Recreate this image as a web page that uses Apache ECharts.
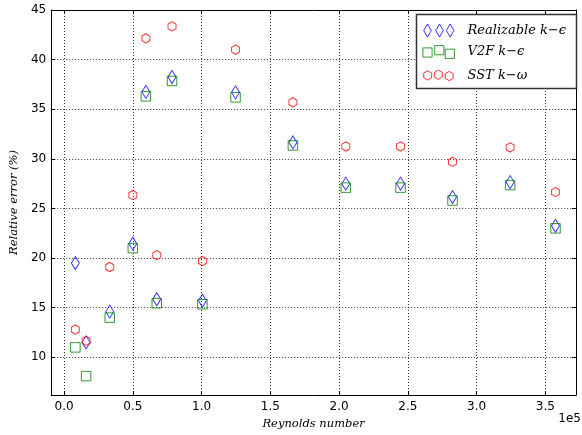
<!DOCTYPE html>
<html>
<head>
<meta charset="utf-8">
<script src="https://cdn.jsdelivr.net/npm/echarts@6/dist/echarts.min.js"></script>
<style>
  html, body { margin: 0; padding: 0; background: #fff; }
  #chart { width: 582px; height: 435px; }
</style>
</head>
<body>
<div id="chart"></div>
<script>
// Reynolds numbers of the test cases and relative errors (%) of each turbulence model
const reynolds = [8200, 16000, 33200, 50000, 59500, 67400, 78500, 100600, 124700, 166400, 204900, 244700, 282500, 324400, 357400];
const realizableErr = [19.5, 11.5, 14.6, 21.45, 36.75, 15.85, 38.25, 15.7, 36.7, 31.65, 27.5, 27.5, 26.15, 27.65, 23.25];
const v2fErr = [11.0, 8.1, 14.0, 21.0, 36.3, 15.45, 37.85, 15.35, 36.2, 31.35, 27.1, 27.1, 25.8, 27.35, 23.0];
const sstErr = [12.8, 11.65, 19.1, 26.35, 42.15, 20.3, 43.35, 19.7, 41.0, 35.7, 31.25, 31.25, 29.7, 31.15, 26.65];

const xTicks = [0, 50000, 100000, 150000, 200000, 250000, 300000, 350000];
const xTickLabels = ['0.0', '0.5', '1.0', '1.5', '2.0', '2.5', '3.0', '3.5'];
const yTicks = [10, 15, 20, 25, 30, 35, 40, 45];

const seriesNames = ['Realizable k\u2212\u03f5', 'V2F k\u2212\u03f5', 'SST k\u2212\u03c9'];

const BLUE = '#0000ff', GREEN = '#008000', RED = '#ff0000';
const serif = 'DejaVu Serif, Liberation Serif, serif';
const sans = 'DejaVu Sans, sans-serif';

// Marker outlines (unit shapes, scaled by symbolSize)
const hexSymbol = 'path://M0,-1 L0.866,-0.5 L0.866,0.5 L0,1 L-0.866,0.5 L-0.866,-0.5 Z';

// Build a legend icon made of three hollow markers, as matplotlib draws scatter legends
function shapePath(shape, cx, cy, hw, hh) {
  if (shape === 'diamond') {
    return `M${cx} ${cy - hh} L${cx + hw} ${cy} L${cx} ${cy + hh} L${cx - hw} ${cy} Z`;
  }
  if (shape === 'square') {
    return `M${cx - hw} ${cy - hh} H${cx + hw} V${cy + hh} H${cx - hw} Z`;
  }
  const s = hh / 2;
  return `M${cx} ${cy - hh} L${cx + hw} ${cy - s} L${cx + hw} ${cy + s} L${cx} ${cy + hh} L${cx - hw} ${cy + s} L${cx - hw} ${cy - s} Z`;
}
function legendIcon(shape, centers, hw, hh) {
  const x0 = Math.min(...centers.map(c => c[0])) - hw;
  const x1 = Math.max(...centers.map(c => c[0])) + hw;
  const y0 = Math.min(...centers.map(c => c[1])) - hh;
  const y1 = Math.max(...centers.map(c => c[1])) + hh;
  const r = v => Math.round(v * 100) / 100;
  const path = centers.map(c => shapePath(shape, r(c[0] - x0), r(c[1] - y0), hw, hh)).join(' ');
  return { path: 'path://' + path, left: x0, top: y0, w: x1 - x0, h: y1 - y0 };
}

const legendIcons = [
  legendIcon('diamond', [[427, 30], [439, 30], [449.7, 30]], 3.75, 6.5),
  legendIcon('square', [[427, 52], [438.8, 49.7], [449.3, 53.3]], 4.6, 4.6),
  legendIcon('hex', [[427.2, 74.2], [437.8, 73.5], [448.7, 74.8]], 3.98, 4.6)
];
const legendColors = [BLUE, GREEN, RED];
const TEXT_LEFT = 467;

const legends = legendIcons.map((ic, i) => ({
  left: ic.left,
  top: ic.top,
  padding: 0,
  orient: 'vertical',
  itemWidth: ic.w,
  itemHeight: ic.h,
  selectedMode: false,
  z: 10,
  data: [{
    name: seriesNames[i],
    icon: ic.path,
    itemStyle: { color: 'rgba(0,0,0,0)', borderColor: legendColors[i], borderWidth: 1 }
  }],
  textStyle: {
    fontFamily: serif, fontStyle: 'italic', fontSize: 13, color: '#000',
    padding: [0, 0, 0, TEXT_LEFT - (ic.left + ic.w + 5)]
  }
}));

function pairs(ys) { return reynolds.map((x, i) => [x, ys[i]]); }

const gridLine = { show: true, lineStyle: { color: 'rgba(0,0,0,0.8)', width: 1, type: [1, 2] } };
const frameLine = { show: true, onZero: false, lineStyle: { color: '#000', width: 1 } };

const X_MIN = -9400, X_MAX = 372300, Y_MIN = 6.2, Y_MAX = 45;

const option = {
  backgroundColor: '#fff',
  animation: false,
  grid: { left: 48, right: 6, top: 10, bottom: 38, containLabel: false },
  xAxis: [
    {
      type: 'value', position: 'bottom', min: X_MIN, max: X_MAX,
      axisLine: frameLine,
      axisTick: { show: true, inside: true, length: 4, customValues: xTicks, lineStyle: { color: '#000' } },
      axisLabel: {
        show: true, customValues: xTicks, margin: 6, color: '#000', fontFamily: sans, fontSize: 12,
        formatter: v => xTickLabels[xTicks.indexOf(v)] ?? ''
      },
      splitLine: gridLine,
      name: 'Reynolds number', nameLocation: 'middle', nameGap: 23,
      nameTextStyle: { fontFamily: serif, fontStyle: 'italic', fontSize: 11.5, color: '#000' }
    },
    {
      type: 'value', position: 'top', min: X_MIN, max: X_MAX,
      axisLine: frameLine,
      axisTick: { show: true, inside: true, length: 4, customValues: xTicks, lineStyle: { color: '#000' } },
      axisLabel: { show: false, customValues: xTicks },
      splitLine: { show: false }
    }
  ],
  yAxis: [
    {
      type: 'value', position: 'left', min: Y_MIN, max: Y_MAX,
      axisLine: frameLine,
      axisTick: { show: true, inside: true, length: 4, customValues: yTicks, lineStyle: { color: '#000' } },
      axisLabel: { show: true, customValues: yTicks, margin: 5, color: '#000', fontFamily: sans, fontSize: 12 },
      splitLine: gridLine,
      name: 'Relative error (%)', nameLocation: 'middle', nameGap: 23,
      nameTextStyle: { fontFamily: serif, fontStyle: 'italic', fontSize: 11.5, color: '#000' }
    },
    {
      type: 'value', position: 'right', min: Y_MIN, max: Y_MAX,
      axisLine: frameLine,
      axisTick: { show: true, inside: true, length: 4, customValues: yTicks, lineStyle: { color: '#000' } },
      axisLabel: { show: false, customValues: yTicks },
      splitLine: { show: false }
    }
  ],
  legend: legends,
  graphic: [
    {
      type: 'rect', z: 8, silent: true,
      shape: { x: 416.5, y: 14.5, width: 160, height: 74 },
      style: { fill: '#fff', stroke: '#333', lineWidth: 1.5 }
    },
    {
      type: 'text', right: 1, top: 413, silent: true,
      style: { text: '1e5', fontFamily: sans, fontSize: 12, fill: '#000' }
    }
  ],
  series: [
    {
      name: seriesNames[0], type: 'scatter', data: pairs(realizableErr),
      symbol: 'diamond', symbolSize: [8, 13],
      itemStyle: { color: 'rgba(0,0,0,0)', borderColor: BLUE, borderWidth: 1 }
    },
    {
      name: seriesNames[1], type: 'scatter', data: pairs(v2fErr),
      symbol: 'rect', symbolSize: [9.5, 9.5],
      itemStyle: { color: 'rgba(0,0,0,0)', borderColor: GREEN, borderWidth: 1 }
    },
    {
      name: seriesNames[2], type: 'scatter', data: pairs(sstErr),
      symbol: hexSymbol, symbolSize: [8, 9.2],
      itemStyle: { color: 'rgba(0,0,0,0)', borderColor: RED, borderWidth: 1 }
    }
  ]
};

const chart = echarts.init(document.getElementById('chart'), null, { renderer: 'canvas' });
chart.setOption(option);
</script>
</body>
</html>
